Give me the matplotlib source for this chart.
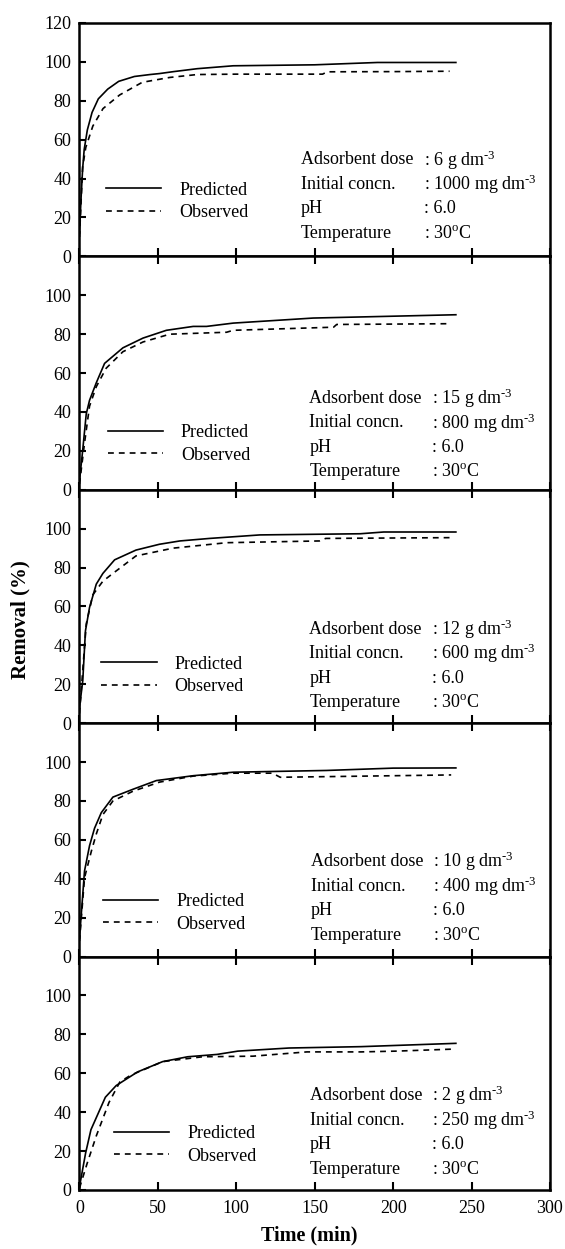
import numpy as np
import matplotlib
matplotlib.use("Agg")
import matplotlib.pyplot as plt

plt.rcParams["font.family"] = ["Liberation Serif", "DejaVu Serif"]
plt.rcParams["mathtext.fontset"] = "custom"
plt.rcParams["mathtext.rm"] = "Liberation Serif"
plt.rcParams["mathtext.it"] = "Liberation Serif:italic"

# andmed, ülevalt alla (5 paneeli)
doses = ["6", "15", "12", "10", "2"]
concns = ["1000", "800", "600", "400", "250"]

t1_pred = [0, 1, 2, 3, 5, 8, 12, 18, 25, 35, 45, 51, 60, 75, 98, 150, 190, 240]
y1_pred = [12, 30, 45, 55, 65, 74, 81, 86, 90, 92.5, 93.5, 94, 95, 96.5, 98, 98.5, 99.7, 99.7]
t1_obs = [0, 2, 4, 8.5, 15, 25.6, 40, 57.5, 75, 100, 155, 158, 200, 236]
y1_obs = [10, 46, 56, 67, 76, 83, 89.5, 92, 93.5, 93.7, 93.7, 94.9, 95, 95.2]

t2_pred = [0, 2, 4.3, 6.4, 10.7, 16, 27.7, 40.5, 55.4, 72.5, 81, 98, 149, 240]
y2_pred = [4.8, 20, 39, 46, 55, 65, 73, 78, 82, 84, 84, 85.7, 88.3, 90]
t2_obs = [0, 3.2, 6.4, 10.7, 17, 27.7, 40.5, 57.5, 93.8, 98, 162, 164, 237]
y2_obs = [3, 24, 43, 53, 62.5, 71, 76, 80, 81, 82, 83.6, 85, 85.4]

t3_pred = [0, 2.1, 3.8, 6.4, 10.7, 14.9, 22.4, 36, 51, 64, 83, 115, 179, 194, 240]
y3_pred = [8, 22, 47.5, 59.5, 71.5, 77, 84, 89, 92, 93.7, 95, 96.8, 97.4, 98.3, 98.3]
t3_obs = [0, 4.3, 8.5, 14.9, 21.3, 36, 59.7, 93.8, 153, 157, 237]
y3_obs = [5, 51, 66, 73, 77, 86, 90, 92.8, 93.7, 95, 95.4]

t4_pred = [0, 3.2, 6.4, 9.6, 13.9, 21.3, 34, 49, 72.5, 98, 157.5, 200, 240]
y4_pred = [9.5, 44, 57, 66, 74, 82, 86, 90.5, 93, 94.8, 95.7, 96.9, 97]
t4_obs = [0, 3.2, 7.5, 10.7, 14.9, 21.3, 34, 51, 72.5, 98, 123, 128, 237]
y4_obs = [8, 40.5, 54, 63, 73, 80, 85, 89.7, 92.8, 94.3, 94.3, 92.2, 93.4]

t5_pred = [0, 3.9, 7.3, 16.5, 23.4, 37, 53, 69, 87.7, 101, 133.6, 179.5, 240]
y5_pred = [1.7, 19, 31, 47.7, 53.7, 60.7, 66, 68.5, 69.7, 71.4, 73, 73.7, 75.4]
t5_obs = [0, 5, 10.8, 18.8, 25.7, 32.6, 53, 78.5, 110.6, 145, 179.5, 202, 237]
y5_obs = [1, 14, 28, 45, 55.5, 59, 66, 68.5, 68.8, 71, 71, 71.4, 72.4]

x_ticks = [0, 50, 100, 150, 200, 250, 300]

# paigutus (andmeteljestikus)
info_x = [141, 146.6, 146.6, 147.5, 147]
colon_x = [219.5, 224.8, 224.8, 225.7, 225]
info_top = [49.6, 47, 48.4, 48.8, 48.5]
leg_anchor = [(17, 28.3), (18, 23.6), (14, 24.6), (15, 22.4), (22, 23.1)]


def joonista_paneel(ax, t_p, y_p, t_o, y_o, i):
    ax.plot(t_p, y_p, color="black", lw=1.2, label="Predicted")
    ax.plot(t_o, y_o, color="black", lw=1.2, linestyle=(0, (3.5, 3)), label="Observed")
    ax.set_xlim(0, 300)
    ax.set_ylim(0, 120)
    ax.set_xticks(x_ticks)
    if i == 0:
        ax.set_yticks([0, 20, 40, 60, 80, 100, 120])
    else:
        ax.set_yticks([0, 20, 40, 60, 80, 100])
    for s in ax.spines.values():
        s.set_linewidth(1.8)
    ax.tick_params(axis="y", direction="in", length=5, width=1.5, labelsize=13, pad=6)
    ax.tick_params(axis="x", direction="in", length=5.5, width=1.5, labelsize=13,
                   top=(i > 0), bottom=True, labelbottom=(i == 4), pad=7)

    ax.legend(loc="center left", bbox_to_anchor=leg_anchor[i],
              bbox_transform=ax.transData, frameon=False, fontsize=13,
              handlelength=3.05, handletextpad=1.0, labelspacing=0.3,
              borderpad=0, borderaxespad=0)

    rows = ["Adsorbent dose", "Initial concn.", "pH", "Temperature"]
    vals = [": " + doses[i] + r" g dm$^{\text{-3}}$",
            ": " + concns[i] + r" mg dm$^{\text{-3}}$",
            ": 6.0",
            r": 30$^{\text{o}}$C"]
    for k in range(4):
        y = info_top[i] - 12.6 * k
        ax.text(info_x[i], y, rows[k], fontsize=13, va="center", ha="left")
        ax.text(colon_x[i], y, vals[k], fontsize=13, va="center", ha="left")


def main():
    fig = plt.figure(figsize=(5.65, 12.49), dpi=100)
    kõik = [(t1_pred, y1_pred, t1_obs, y1_obs),
            (t2_pred, y2_pred, t2_obs, y2_obs),
            (t3_pred, y3_pred, t3_obs, y3_obs),
            (t4_pred, y4_pred, t4_obs, y4_obs),
            (t5_pred, y5_pred, t5_obs, y5_obs)]
    left, width = 0.1407, 0.8327
    h = 0.18687
    bottom0 = 0.04724
    for i, (tp, yp, to, yo) in enumerate(kõik):
        ax = fig.add_axes([left, bottom0 + (4 - i) * h, width, h])
        joonista_paneel(ax, tp, yp, to, yo, i)

    fig.text(0.036, 0.504, "Removal (%)", rotation=90, fontsize=15,
             fontweight="bold", ha="center", va="center")
    fig.text(left + width * 0.5 - 0.01, 0.0105, "Time (min)", fontsize=14.5,
             fontweight="bold", ha="center", va="center")
    fig.savefig("out.png", dpi=100)


main()
